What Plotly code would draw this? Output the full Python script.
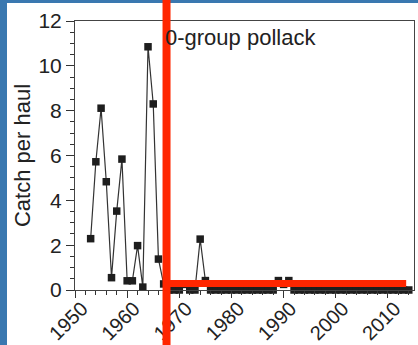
import plotly.graph_objects as go

years = list(range(1953, 2015))
catch = [
    2.29, 5.72, 8.11, 4.83, 0.55, 3.52, 5.84, 0.41, 0.41, 1.98,
    0.13, 10.85, 8.30, 1.38, 0.27,            # 1953-1967
    0.0, 0.0, 0.0, 0.25, 0.0, 0.0, 2.27, 0.42, # 1968-1975
    0.0, 0.0, 0.0, 0.0, 0.0, 0.0, 0.0, 0.0, 0.0, 0.0, 0.0, 0.0, 0.0,  # 1976-1988
    0.42, 0.25, 0.42,                          # 1989-1991
    0.0, 0.0, 0.0, 0.0, 0.0, 0.0, 0.0, 0.0, 0.0, 0.0, 0.0,  # 1992-2002
    0.0, 0.0, 0.0, 0.0, 0.0, 0.0, 0.0, 0.0, 0.0, 0.0, 0.0, 0.0,  # 2003-2014
]
x_ticks = [1950, 1960, 1970, 1980, 1990, 2000, 2010]
y_ticks = [0, 2, 4, 6, 8, 10, 12]
title_text = "0-group pollack"
y_title = "Catch per haul"

# red overlay marks (slide annotation)
red_vline_year = 1967.55
red_hline_value = 0.29
red_hline_end = 2013.5

W, H = 418, 345
ML, MR, MT, MB = 75, 4, 21, 55
pw, ph = W - ML - MR, H - MT - MB
BLUE = "#3a78b0"

def px_x(p):
    return (p - ML) / pw

def px_y(p):
    return 1 - (p - MT) / ph

FONT = "Liberation Sans, Arial, Helvetica, sans-serif"

fig = go.Figure()
fig.add_trace(go.Scatter(
    x=years, y=catch, mode="lines+markers",
    line=dict(color="#333333", width=1.2),
    marker=dict(symbol="square", size=7.5, color="#1e1e1e"),
    showlegend=False, cliponaxis=False,
))

shapes = [
    dict(type="rect", xref="paper", yref="paper",
         x0=px_x(7), x1=px_x(W + 10), y0=px_y(H + 10), y1=px_y(3),
         fillcolor="white", line=dict(width=0), layer="below"),
    dict(type="line", xref="x", yref="paper",
         x0=red_vline_year, x1=red_vline_year, y0=px_y(H + 5), y1=px_y(-5),
         line=dict(color="#ff2600", width=8), layer="above"),
    dict(type="line", xref="x", yref="y",
         x0=red_vline_year, x1=red_hline_end, y0=red_hline_value, y1=red_hline_value,
         line=dict(color="#ff2600", width=7), layer="above"),
]

fig.update_layout(
    width=W, height=H,
    margin=dict(l=ML, r=MR, t=MT, b=MB, pad=0, autoexpand=False),
    paper_bgcolor=BLUE,
    plot_bgcolor="white",
    font=dict(family=FONT, color="#222222", size=20),
    shapes=shapes,
    annotations=[dict(
        text=title_text, xref="paper", yref="paper",
        x=px_x(163), y=px_y(23), xanchor="left", yanchor="top",
        showarrow=False, font=dict(family=FONT, size=22, color="#222222"),
    )],
)
fig.update_xaxes(
    range=[1950, 2015], tickvals=x_ticks, ticktext=[str(v) for v in x_ticks],
    tickangle=-45, ticks="outside", ticklen=7, tickwidth=1, tickcolor="#333333",
    showline=True, linecolor="#444444", linewidth=1, mirror=True,
    showgrid=False, zeroline=False, automargin=False,
    minor=dict(dtick=2, tick0=1950, ticks="outside", ticklen=4, tickcolor="#333333", showgrid=False),
    tickfont=dict(family=FONT, size=20, color="#222222"),
    ticklabelstandoff=-9, ticklabelshift=7,
)
fig.update_yaxes(
    range=[0, 12], tickvals=y_ticks, ticks="outside", ticklen=8, tickwidth=1, tickcolor="#333333",
    showline=True, linecolor="#444444", linewidth=1, mirror=True,
    showgrid=False, zeroline=False, automargin=False,
    minor=dict(dtick=0.5, tick0=0, ticks="outside", ticklen=4, tickcolor="#333333", showgrid=False),
    tickfont=dict(family=FONT, size=21, color="#222222"),
    title=dict(text=y_title, font=dict(family=FONT, size=22, color="#222222"), standoff=1),
)
fig.write_html(
    "out.html",
    config={"displayModeBar": False},
    post_script="document.body.style.margin='0';document.body.style.padding='0';"
                "document.body.style.background='" + BLUE + "';"
                "document.documentElement.style.overflow='hidden';",
)
